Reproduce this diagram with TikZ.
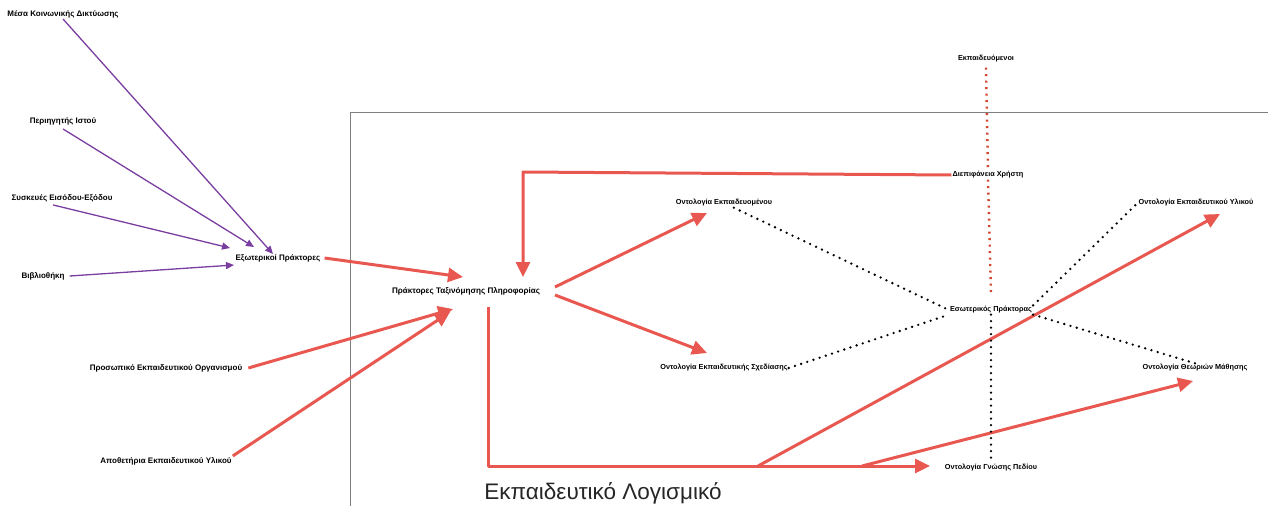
\documentclass[tikz,border=0pt]{standalone}
\usepackage{fontspec}
\setmainfont{Liberation Sans}
\usetikzlibrary{arrows.meta}
\definecolor{redarr}{RGB}{232,88,80}
\definecolor{purp}{RGB}{122,62,160}
\definecolor{boxgray}{RGB}{128,128,128}
\definecolor{reddot}{RGB}{210,70,48}
\begin{document}
\begin{tikzpicture}[x=1pt,y=-1pt,
 lbl/.style={font=\bfseries\fontsize{8}{9}\selectfont, inner sep=1pt},
 lblm/.style={font=\bfseries\fontsize{8.1}{9}\selectfont, inner sep=1pt},
 lbls/.style={font=\bfseries\fontsize{7.3}{8}\selectfont, inner sep=1pt},
 parr/.style={draw=purp, line width=1.3pt, -{Triangle[length=8pt,width=7pt]}},
 rarr/.style={draw=redarr, line width=3pt, line join=round, -{Triangle[length=15pt,width=14pt]}},
 bdot/.style={draw=black, line width=2.6pt, line cap=round, dash pattern=on 0pt off 6.5pt},
 rdot/.style={draw=reddot, line width=2.4pt, dash pattern=on 2pt off 4.5pt},
]
\useasboundingbox (0,0) rectangle (1268,506);
% frame of the software
\draw[boxgray, line width=1pt] (350,506) -- (350,112) -- (1268,112);

% labels
\node[lbl] (msm) at (63,14) {Μέσα Κοινωνικής Δικτύωσης};
\node[lbl] (web) at (63,121) {Περιηγητής Ιστού};
\node[lbl] (io) at (62,198) {Συσκευές Εισόδου-Εξόδου};
\node[lbl] (lib) at (43,276) {Βιβλιοθήκη};
\node[lbl] (ext) at (278,258) {Εξωτερικοί Πράκτορες};
\node[lbl] (staff) at (166,368) {Προσωπικό Εκπαιδευτικού Οργανισμού};
\node[lbl] (repo) at (166,461) {Αποθετήρια Εκπαιδευτικού Υλικού};
\node[lblm] (pt) at (466,291) {Πράκτορες Ταξινόμησης Πληροφορίας};
\node[lbls] (olearn) at (724,203) {Οντολογία Εκπαιδευομένου};
\node[lbls] (odes) at (724,368) {Οντολογία Εκπαιδευτικής Σχεδίασης};
\node[lbls] (inner) at (991,310) {Εσωτερικός Πράκτορας};
\node[lbls] (learners) at (986,59) {Εκπαιδευόμενοι};
\node[lbls] (ui) at (988,175) {Διεπιφάνεια Χρήστη};
\node[lbls] (omat) at (1196,203) {Οντολογία Εκπαιδευτικού Υλικού};
\node[lbls] (otheo) at (1195,368) {Οντολογία Θεωριών Μάθησης};
\node[lbls] (odom) at (991,468) {Οντολογία Γνώσης Πεδίου};
\node[font=\fontsize{22.5}{26}\selectfont, text=black!85] (sw) at (603,493) {Εκπαιδευτικό Λογισμικό};

% named points
\coordinate (e1) at (273,254);
\coordinate (e2) at (254,247);
\coordinate (e3) at (230,248);
\coordinate (e4) at (234,265);
\coordinate (p1) at (463,277);
\coordinate (p2) at (453,309);
\coordinate (p3) at (450,312);
\coordinate (po1) at (555,287);
\coordinate (po2) at (555,295);
\coordinate (t1) at (707,213);
\coordinate (t2) at (707,353);
\coordinate (uc) at (523,172);
\coordinate (ut) at (523,277);
\coordinate (pb) at (488,307);
\coordinate (bc) at (488,466);
\coordinate (bt) at (930,466);
\coordinate (b1) at (758,466);
\coordinate (b2) at (862,466);
\coordinate (t3) at (1220,214);
\coordinate (t4) at (1193,381);

% purple arrows
\draw[parr] (msm.south) -- (e1);
\draw[parr] ([yshift=-3pt]web.south) -- (e2);
\draw[parr] ([xshift=-9pt,yshift=-2pt]io.south) -- (e3);
\draw[parr] ([xshift=4pt]lib.east) -- (e4);

% red arrows
\draw[rarr] ([xshift=3pt]ext.east) -- (p1);
\draw[rarr] ([xshift=5pt]staff.east) -- (p2);
\draw[rarr] (repo.north east) -- (p3);
\draw[rarr] (po1) -- (t1);
\draw[rarr] (po2) -- (t2);
\draw[rarr] (ui.west) -- (uc) -- (ut);
\draw[rarr] (pb) -- (bc) -- (bt);
\draw[rarr] (b1) -- (t3);
\draw[rarr] (b2) -- (t4);

% dotted links
\draw[bdot] (olearn) -- (inner.west);
\draw[bdot] (odes.east) -- (inner.south west);
\draw[bdot] (inner.north east) -- (omat.west);
\draw[bdot] (inner.south east) -- (otheo.north);
\draw[bdot] (inner.south) -- (odom.north);
\draw[rdot] ([yshift=-4pt]learners.south) -- (ui.north);
\draw[rdot] (ui.south) -- ([yshift=12pt]inner.north);
\end{tikzpicture}
\end{document}
